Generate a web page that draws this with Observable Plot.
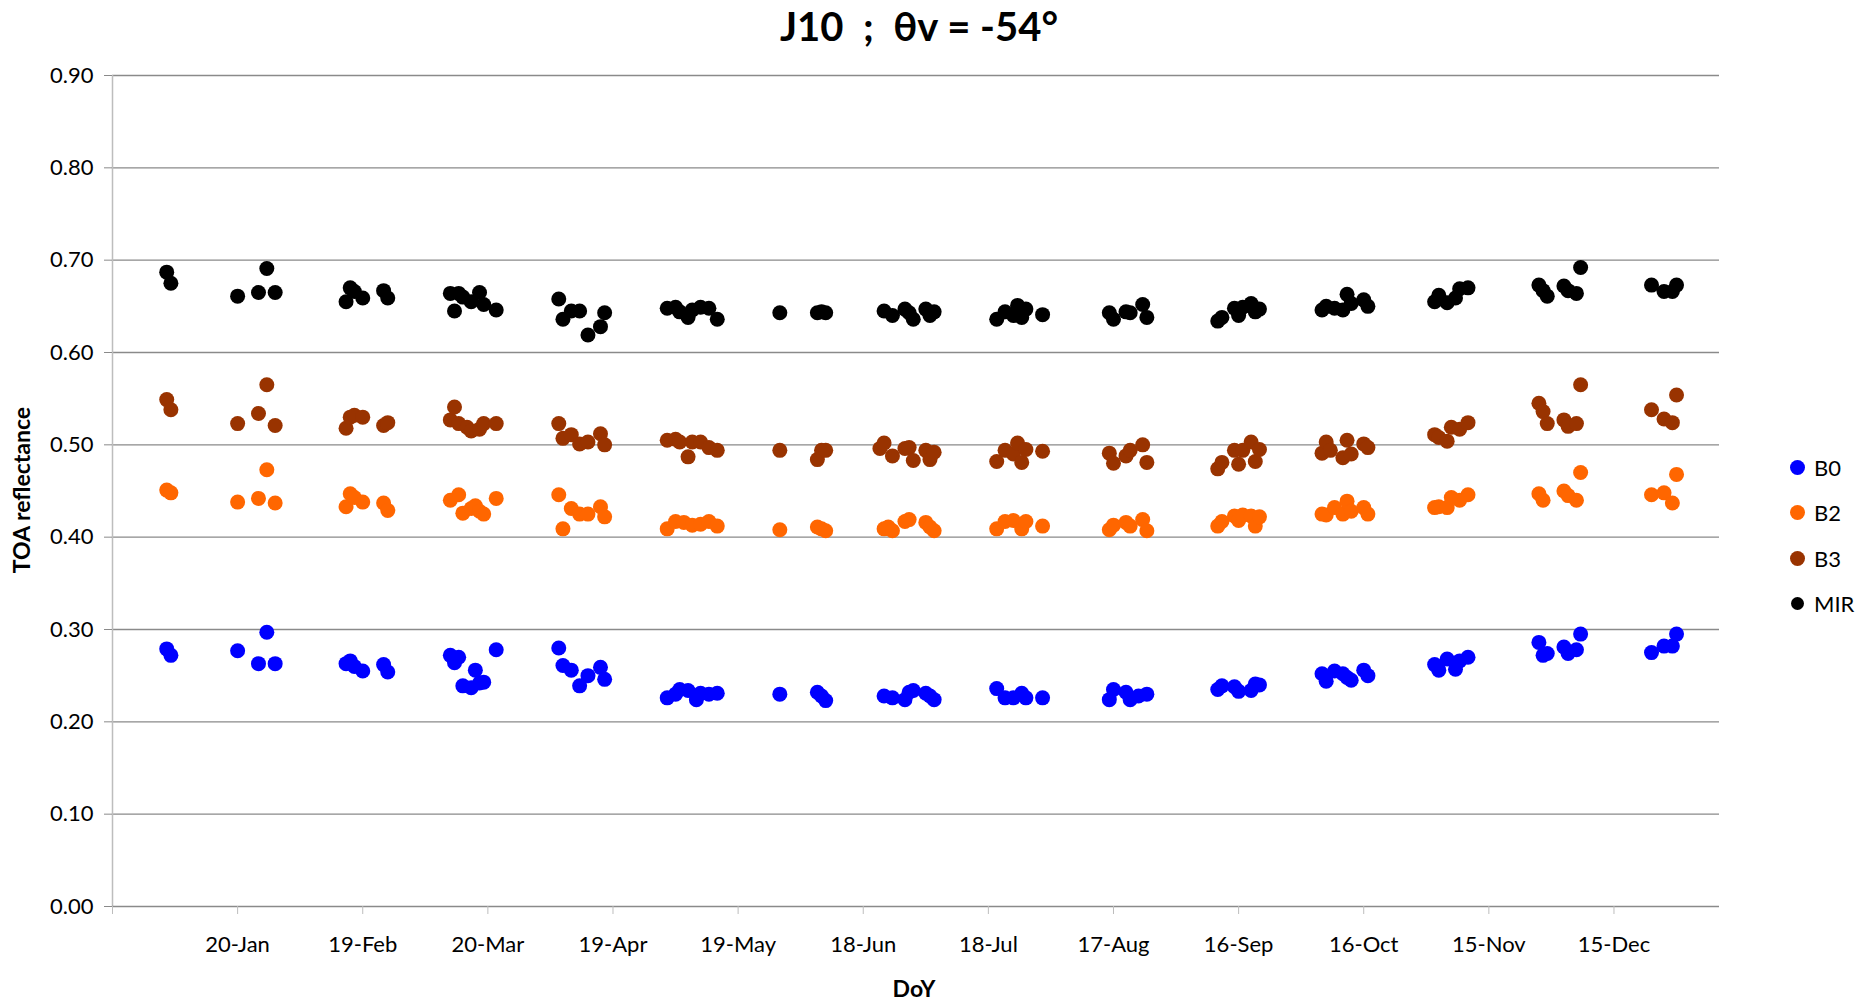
<!DOCTYPE html>
<html>
<head>
<meta charset="utf-8">
<script src="https://cdn.jsdelivr.net/npm/d3@7"></script>
<script src="https://cdn.jsdelivr.net/npm/@observablehq/plot@0.6"></script>
<style>
  body { margin: 0; background: #fff; }
  #wrap { position: relative; width: 1860px; height: 1003px; font-family: Lato, "Open Sans", sans-serif; color: #000; overflow: hidden; }
  #chart { position: absolute; left: 0; top: 0; }
  #title { position: absolute; left: 0; width: 1838px; top: 5px; text-align: center; font-weight: bold; font-size: 40px; line-height: 42px; white-space: pre; }
  #ylabel { position: absolute; left: 21px; top: 490px; transform: translate(-50%, -50%) rotate(-90deg); font-weight: bold; font-size: 23px; line-height: 24px; white-space: nowrap; }
  #xlabel { position: absolute; left: 914px; top: 988px; transform: translate(-50%, -50%); font-weight: bold; font-size: 23px; line-height: 23px; white-space: nowrap; }
  #legend { position: absolute; left: 1789px; top: 445px; }
  .item { display: flex; align-items: center; height: 45.3px; font-size: 22px; }
  .item svg { margin-right: 8px; }
</style>
</head>
<body>
<div id="wrap">
  <div id="chart"></div>
  <div id="title">J10  ;  θv = -54°</div>
  <div id="ylabel">TOA reflectance</div>
  <div id="xlabel">DoY</div>
  <div id="legend"></div>
</div>
<script>
// ---- Data (day of year in a leap year, TOA reflectance) ----
const seriesNames = ["B0", "B2", "B3", "MIR"];
const seriesColors = ["#0000ff", "#ff6600", "#993300", "#000000"];

const b0Days = [3,4,20,25,27,29, 46,47,48,50,55,56, 71,72,73,74,76,77,78,79,82, 97,98,100,102,104,107,108, 123,125,126,128,130,131,133,135, 150,159,160,161, 175,177,180,181,182,185,186,187, 202,204,206,208,209,213, 229,230,233,234,236,238, 255,256,259,260,263,264,265, 280,281,283,285,286,287,290,291, 307,308,310,312,313,315, 332,333,334,338,339,341,342, 359,362,364,365];
const b0Vals = [0.279,0.272,0.277,0.263,0.297,0.263, 0.263,0.266,0.260,0.255,0.262,0.254, 0.272,0.264,0.270,0.239,0.237,0.256,0.242,0.243,0.278, 0.280,0.261,0.256,0.239,0.250,0.259,0.246, 0.226,0.230,0.235,0.234,0.224,0.231,0.230,0.231, 0.230,0.232,0.228,0.223, 0.228,0.226,0.224,0.232,0.234,0.231,0.228,0.224, 0.236,0.226,0.226,0.231,0.226,0.226, 0.224,0.235,0.232,0.224,0.228,0.230, 0.235,0.239,0.238,0.233,0.234,0.241,0.240, 0.252,0.244,0.255,0.252,0.248,0.245,0.256,0.250, 0.262,0.256,0.268,0.257,0.266,0.270, 0.286,0.272,0.274,0.281,0.274,0.278,0.295, 0.275,0.282,0.282,0.295];

const b2Days = [3,4,20,25,27,29, 46,47,48,50,55,56, 71,73,74,76,77,78,79,82, 97,98,100,102,104,107,108, 123,125,127,129,131,133,135, 150,159,160,161,175,176,177,180,181,185,186,187, 202,204,206,208,209,213, 229,230,233,234,237,238, 255,256,259,260,261,263,264,265, 280,281,283,285,286,287,290,291, 307,308,310,311,313,315, 332,333,338,339,341,342, 359,362,364,365];
const b2Vals = [0.451,0.448,0.438,0.442,0.473,0.437, 0.433,0.447,0.443,0.438,0.437,0.429, 0.440,0.446,0.426,0.431,0.434,0.428,0.425,0.442, 0.446,0.409,0.431,0.425,0.425,0.433,0.422, 0.409,0.417,0.416,0.413,0.414,0.417,0.412, 0.408,0.411,0.409,0.407,0.409,0.411,0.407,0.417,0.419,0.416,0.411,0.407, 0.409,0.417,0.418,0.409,0.417,0.412, 0.408,0.413,0.416,0.412,0.419,0.407, 0.412,0.417,0.423,0.418,0.424,0.423,0.412,0.422, 0.425,0.424,0.432,0.425,0.439,0.428,0.432,0.425, 0.432,0.433,0.432,0.443,0.440,0.446, 0.447,0.440,0.450,0.445,0.440,0.470, 0.446,0.448,0.437,0.468];

const b3Days = [3,4,20,25,27,29, 46,47,48,50,55,56, 71,72,73,75,76,78,79,82, 97,98,100,102,104,107,108, 123,125,126,128,129,131,133,135, 150,159,160,161,174,175,177,180,181,182,185,186,187, 202,204,206,207,208,209,213, 229,230,233,234,237,238, 255,256,259,260,261,263,264,265, 280,281,282,285,286,287,290,291, 307,308,310,311,313,315, 332,333,334,338,339,341,342, 359,362,364,365];
const b3Vals = [0.549,0.538,0.523,0.534,0.565,0.521, 0.518,0.530,0.532,0.530,0.521,0.524, 0.527,0.541,0.523,0.519,0.515,0.517,0.523,0.523, 0.523,0.507,0.511,0.501,0.503,0.512,0.500, 0.505,0.506,0.503,0.487,0.503,0.503,0.497,0.494, 0.494,0.484,0.494,0.494,0.496,0.502,0.488,0.496,0.497,0.483,0.494,0.484,0.492, 0.482,0.494,0.490,0.502,0.481,0.495,0.493, 0.491,0.480,0.488,0.494,0.500,0.481, 0.474,0.481,0.494,0.479,0.494,0.503,0.482,0.495, 0.491,0.503,0.494,0.486,0.505,0.490,0.501,0.497, 0.511,0.508,0.504,0.519,0.517,0.524, 0.545,0.536,0.523,0.527,0.520,0.523,0.565, 0.538,0.528,0.524,0.554];

const mirDays = [3,4,20,25,27,29, 46,47,48,50,55,56, 71,72,73,74,76,78,79,82, 97,98,100,102,104,107,108, 123,125,126,128,129,131,133,135, 150,159,160,161,175,177,180,181,182,185,186,187, 202,204,206,207,208,209,213, 229,230,233,234,237,238, 255,256,259,260,261,263,264,265, 280,281,283,285,286,287,290,291, 307,308,310,312,313,315, 332,333,334,338,339,341,342, 359,362,364,365];
const mirVals = [0.687,0.675,0.661,0.665,0.691,0.665, 0.655,0.670,0.666,0.659,0.667,0.659, 0.664,0.645,0.664,0.660,0.655,0.665,0.652,0.646, 0.658,0.636,0.645,0.645,0.619,0.628,0.643, 0.648,0.649,0.644,0.638,0.646,0.649,0.648,0.636, 0.643,0.643,0.644,0.643,0.645,0.640,0.647,0.643,0.636,0.647,0.640,0.644, 0.636,0.644,0.640,0.651,0.638,0.647,0.641, 0.643,0.636,0.644,0.643,0.652,0.638, 0.634,0.638,0.648,0.640,0.649,0.653,0.644,0.647, 0.646,0.650,0.648,0.646,0.663,0.653,0.657,0.650, 0.655,0.662,0.654,0.659,0.669,0.670, 0.673,0.667,0.661,0.672,0.667,0.664,0.692, 0.673,0.666,0.666,0.673];

const xTicks = [-10, 20, 50, 80, 110, 140, 170, 200, 230, 260, 290, 320, 350];
const yTicks = [0, 0.1, 0.2, 0.3, 0.4, 0.5, 0.6, 0.7, 0.8, 0.9];
const xDomain = [-10, 375.3];
const yDomain = [0, 0.9];

// ---- Build table ----
const allDays = [b0Days, b2Days, b3Days, mirDays];
const allVals = [b0Vals, b2Vals, b3Vals, mirVals];
const data = [];
seriesNames.forEach((s, i) => {
  const n = Math.min(allDays[i].length, allVals[i].length);
  for (let k = 0; k < n; k++) data.push({series: s, doy: allDays[i][k], value: allVals[i][k]});
});

const fmtDate = d3.utcFormat("%-d-%b");
const tickLabel = d => d < 1 ? "" : fmtDate(new Date(Date.UTC(2012, 0, d)));

const chart = Plot.plot({
  width: 1860,
  height: 1003,
  marginLeft: 112,
  marginRight: 141,
  marginTop: 75,
  marginBottom: 97,
  style: {fontFamily: "Lato, 'Open Sans', sans-serif", fontSize: "22px", background: "white", color: "#000"},
  x: {domain: xDomain},
  y: {domain: yDomain},
  color: {domain: seriesNames, range: seriesColors},
  marks: [
    Plot.gridY(yTicks.filter(d => d > 0), {stroke: "#8a8a8a", strokeOpacity: 1, strokeWidth: 1.3}),
    Plot.ruleX([xDomain[0]], {stroke: "#bdbdbd", strokeWidth: 1.5}),
    Plot.ruleY([0], {stroke: "#8a8a8a", strokeWidth: 1.3}),
    Plot.axisY(yTicks, {tickSize: 8, tickPadding: 11, tickFormat: d3.format(".2f"), stroke: "#8a8a8a", fill: "#000", label: null}),
    Plot.axisX(xTicks, {tickSize: 8, tickPadding: 22, tickFormat: tickLabel, stroke: "#bdbdbd", fill: "#000", label: null}),
    Plot.dot(data, {x: "doy", y: "value", fill: "series", r: 7.5, stroke: null})
  ]
});
document.getElementById("chart").appendChild(chart);

// ---- Legend ----
const legend = document.getElementById("legend");
seriesNames.forEach((s, i) => {
  const item = document.createElement("div");
  item.className = "item";
  const r = s === "MIR" ? 6.5 : 7.5;
  item.innerHTML = `<svg width="17" height="17"><circle cx="8.5" cy="8.5" r="${r}" fill="${seriesColors[i]}"/></svg><span>${s}</span>`;
  legend.appendChild(item);
});
</script>
</body>
</html>
